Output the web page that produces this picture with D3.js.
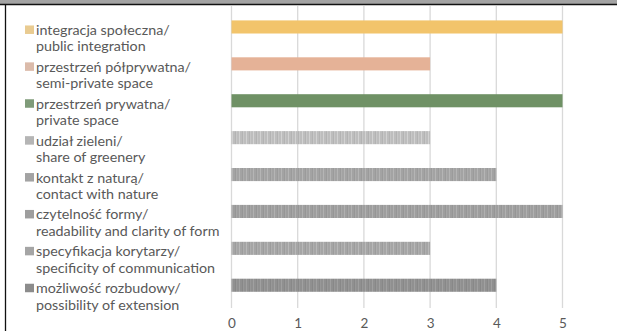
<!DOCTYPE html>
<html>
<head>
<meta charset="utf-8">
<style>
  body { margin: 0; background: #fff; }
  text { font-family: Lato, "Liberation Sans", sans-serif; }
</style>
</head>
<body>
<script src="https://cdn.jsdelivr.net/npm/d3@7"></script>
<script>

var categories = [
  ['integracja społeczna/', 'public integration'],
  ['przestrzeń półprywatna/', 'semi-private space'],
  ['przestrzeń prywatna/', 'private space'],
  ['udział zieleni/', 'share of greenery'],
  ['kontakt z naturą/', 'contact with nature'],
  ['czytelność formy/', 'readability and clarity of form'],
  ['specyfikacja korytarzy/', 'specificity of communication'],
  ['możliwość rozbudowy/', 'possibility of extension']
];
var values = [5, 3, 5, 3, 4, 5, 3, 4];
var tickValues = [0, 1, 2, 3, 4, 5];
var barColors = ['#F2C46B', '#E5B297', '#6F9165', '#BDBDBD', '#A3A3A3', '#9E9E9E', '#A5A5A5', '#909090'];
var swatchColors = ['#E9CB91', '#DBBBAA', '#7F9B79', '#B5B5B5', '#A3A3A3', '#9E9E9E', '#A5A5A5', '#8C8C8C'];

var w = 617, h = 331;

var svg = d3.select('body').append('svg')
    .attr('width', w)
    .attr('height', h);

// stripe patterns for the grey (textured) bars
var defs = svg.append('defs');
barColors.forEach(function(c, i){
  if (i < 3) return;
  var p = defs.append('pattern')
      .attr('id', 'stripe' + i)
      .attr('patternUnits', 'userSpaceOnUse')
      .attr('width', 7).attr('height', 20);
  p.append('rect').attr('width', 7).attr('height', 20).attr('fill', c);
  p.append('rect').attr('x', 1).attr('width', 1).attr('height', 20)
      .attr('fill', d3.color(c).brighter(0.3));
  p.append('rect').attr('x', 4).attr('width', 1).attr('height', 20)
      .attr('fill', d3.color(c).darker(0.15));
  p.append('rect').attr('x', 5).attr('width', 1).attr('height', 20)
      .attr('fill', d3.color(c).brighter(0.15));
});

// frame: grey strip on top, black lines
svg.append('rect').attr('x', 0).attr('y', 0).attr('width', w).attr('height', 4)
    .attr('fill', '#a3a3a3');
svg.append('line').attr('x1', 0).attr('x2', w).attr('y1', 4.5).attr('y2', 4.5)
    .attr('stroke', '#111').attr('stroke-width', 1.5);
svg.append('line').attr('x1', 5.5).attr('x2', 5.5).attr('y1', 4).attr('y2', h)
    .attr('stroke', '#111').attr('stroke-width', 1.3);

var x = d3.scaleLinear().domain([0, 5]).range([231.5, 562.5]);
var y = d3.scaleBand().domain(d3.range(categories.length)).range([8.6, 303.6])
    .paddingInner(0.645).paddingOuter(0.32);

// gridlines
svg.append('g').selectAll('line')
  .data(tickValues)
  .enter().append('line')
  .attr('x1', function(d){ return x(d); })
  .attr('x2', function(d){ return x(d); })
  .attr('y1', 6).attr('y2', 308)
  .attr('stroke', '#D9D9D9').attr('stroke-width', 1.3);

// bars
svg.append('g').selectAll('rect')
  .data(values)
  .enter().append('rect')
  .attr('x', x(0))
  .attr('y', function(d, i){ return y(i); })
  .attr('width', function(d){ return x(d) - x(0); })
  .attr('height', y.bandwidth())
  .attr('fill', function(d, i){ return i < 3 ? barColors[i] : 'url(#stripe' + i + ')'; });

// x axis labels
var axis = d3.axisBottom(x).tickValues(tickValues).tickFormat(d3.format('d'))
    .tickSize(0).tickPadding(0);
var ax = svg.append('g').attr('transform', 'translate(0,318)').call(axis);
ax.select('.domain').remove();
ax.selectAll('text').attr('font-size', 13.5).attr('fill', '#595959')
  .style('font-family', 'Lato, "Liberation Sans", sans-serif');

// legend
var leg = svg.append('g').selectAll('g')
  .data(categories)
  .enter().append('g')
  .attr('transform', function(d, i){ return 'translate(25,' + (y(i) + y.bandwidth() / 2) + ')'; });

leg.append('rect')
  .attr('x', 0).attr('y', -1.5).attr('width', 9).attr('height', 8.5)
  .attr('fill', function(d, i){ return swatchColors[i]; });

leg.append('text')
  .attr('x', 11).attr('y', 8)
  .attr('font-size', 14.3).attr('fill', '#595959')
  .text(function(d){ return d[0]; });

leg.append('text')
  .attr('x', 11).attr('y', 24.5)
  .attr('font-size', 14.3).attr('fill', '#595959')
  .text(function(d){ return d[1]; });

</script>
</body>
</html>
